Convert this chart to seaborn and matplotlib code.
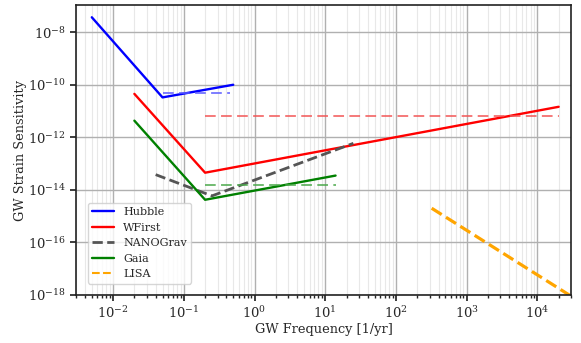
import matplotlib
matplotlib.use("Agg")
import matplotlib.pyplot as plt
import matplotlib.ticker as mticker
import seaborn as sns
import pandas as pd

# ---- data ----
hubble_f = [0.005, 0.05, 0.5]
hubble_h = [3.7e-8, 3.3e-11, 1.0e-10]
hubble_ref_f = [0.05, 0.45]
hubble_ref_h = [5.0e-11, 5.0e-11]

wfirst_f = [0.02, 0.2, 2.0e4]
wfirst_h = [4.5e-11, 4.5e-14, 1.45e-11]
wfirst_ref_f = [0.2, 2.0e4]
wfirst_ref_h = [6.3e-12, 6.3e-12]

nanograv_f = [0.04, 0.25, 25.0]
nanograv_h = [3.8e-14, 5.9e-15, 5.9e-13]

gaia_f = [0.02, 0.2, 14.0]
gaia_h = [4.3e-12, 4.2e-15, 3.5e-14]
gaia_ref_f = [0.2, 14.0]
gaia_ref_h = [1.5e-14, 1.5e-14]

lisa_f = [320.0, 3.0e4]
lisa_h = [2.0e-15, 9.0e-19]

x_ticks = [1e-2, 1e-1, 1e0, 1e1, 1e2, 1e3, 1e4]
y_ticks = [1e-18, 1e-16, 1e-14, 1e-12, 1e-10, 1e-8]

sns.set_theme(style="ticks")
plt.rcParams["font.family"] = ["DejaVu Serif"]
plt.rcParams["mathtext.fontset"] = "dejavuserif"

fig = plt.figure(figsize=(5.81, 3.43), dpi=100)
ax = fig.add_axes([0.131, 0.140, 0.852, 0.845])
ax.set_xscale("log")
ax.set_yscale("log")

def df(f, h):
    return pd.DataFrame({"f": f, "h": h})

sns.lineplot(data=df(hubble_f, hubble_h), x="f", y="h", ax=ax, color="blue",
             lw=1.7, label="Hubble")
sns.lineplot(data=df(wfirst_f, wfirst_h), x="f", y="h", ax=ax, color="red",
             lw=1.7, label="WFirst")
sns.lineplot(data=df(nanograv_f, nanograv_h), x="f", y="h", ax=ax, color="#555555",
             lw=2, linestyle="--", label="NANOGrav")
sns.lineplot(data=df(gaia_f, gaia_h), x="f", y="h", ax=ax, color="green",
             lw=1.7, label="Gaia")
sns.lineplot(data=df(lisa_f, lisa_h), x="f", y="h", ax=ax, color="orange",
             lw=2.3, linestyle="--", label="LISA")

for f, h, c in [(hubble_ref_f, hubble_ref_h, "#5a5aff"),
                (wfirst_ref_f, wfirst_ref_h, "#f25555"),
                (gaia_ref_f, gaia_ref_h, "#4aa84a")]:
    n = len(ax.lines)
    sns.lineplot(data=df(f, h), x="f", y="h", ax=ax, color=c, lw=1.1,
                 legend=False)
    ln = ax.lines[n]
    ln.set_dashes((7, 3.5))
    ln.set_color(c)

ax.set_xlim(3e-3, 3e4)
ax.set_ylim(1e-18, 1.07e-7)

ax.yaxis.set_major_locator(mticker.FixedLocator(y_ticks))
ax.yaxis.set_major_formatter(mticker.LogFormatterSciNotation())
ax.yaxis.set_minor_locator(mticker.NullLocator())
ax.xaxis.set_major_locator(mticker.FixedLocator(x_ticks))
ax.xaxis.set_major_formatter(mticker.LogFormatterSciNotation())
ax.xaxis.set_minor_locator(mticker.LogLocator(base=10, subs=range(2, 10), numticks=12))
ax.xaxis.set_minor_formatter(mticker.NullFormatter())

ax.grid(True, which="major", color="#b0b0b0", lw=1)
ax.xaxis.grid(True, which="minor", color="#e8e8e8", lw=0.8)
ax.set_axisbelow(True)

for s in ax.spines.values():
    s.set_visible(True)
    s.set_color("#222222")
    s.set_linewidth(1.2)

ax.tick_params(axis="both", which="major", labelsize=9.5, direction="out", length=4)
ax.tick_params(axis="x", which="minor", direction="out", length=2.5)

ax.set_xlabel("GW Frequency [1/yr]", fontsize=9.3)
ax.set_ylabel("GW Strain Sensitivity", fontsize=9.3)
ax.xaxis.set_label_coords(0.5, -0.098)
ax.yaxis.set_label_coords(-0.099, 0.5)

leg = ax.legend(loc="lower left", fontsize=8, bbox_to_anchor=(0.012, 0.02),
                frameon=True, fancybox=True)
leg.get_lines()[4].set_linewidth(1.5)

fig.savefig("out.png", dpi=100)
